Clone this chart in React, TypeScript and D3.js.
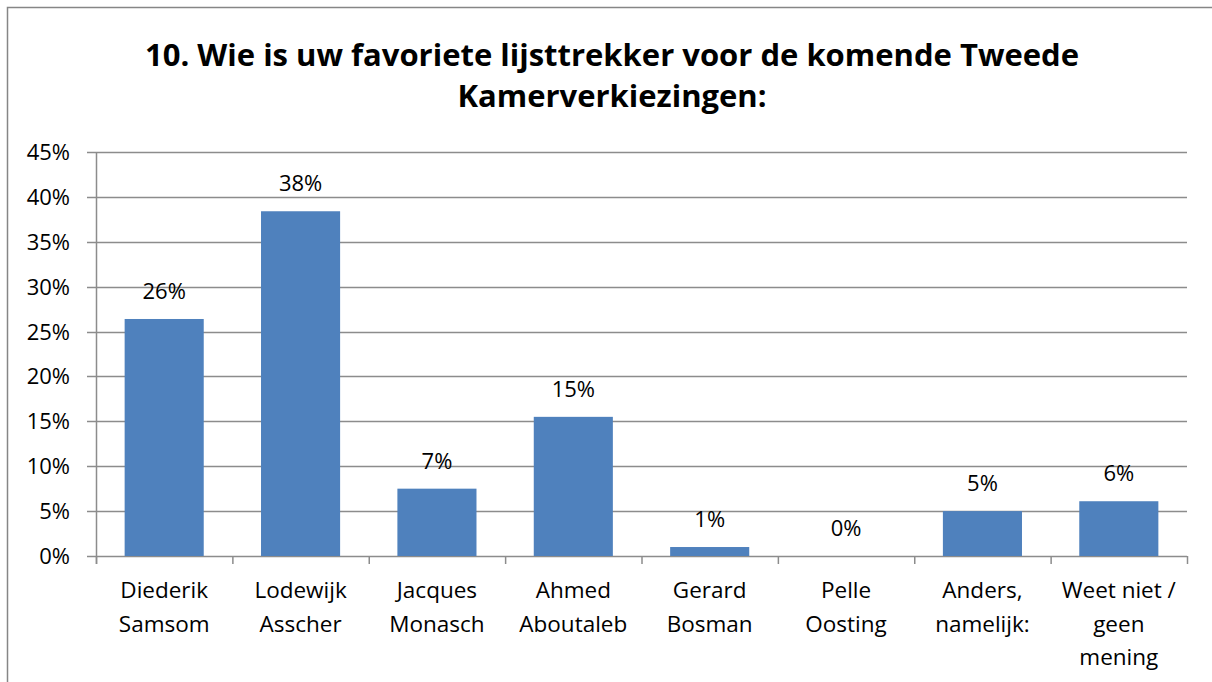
import React, { useEffect, useRef } from 'react';
import * as d3 from 'd3';

const categories = [
  ['Diederik', 'Samsom'],
  ['Lodewijk', 'Asscher'],
  ['Jacques', 'Monasch'],
  ['Ahmed', 'Aboutaleb'],
  ['Gerard', 'Bosman'],
  ['Pelle', 'Oosting'],
  ['Anders,', 'namelijk:'],
  ['Weet niet /', 'geen', 'mening'],
];
const values = [26.4, 38.4, 7.5, 15.5, 1.0, 0, 5.0, 6.1];
const valueLabels = ['26%', '38%', '7%', '15%', '1%', '0%', '5%', '6%'];
const yTicks = [0, 5, 10, 15, 20, 25, 30, 35, 40, 45];
const titleLines = [
  '10. Wie is uw favoriete lijsttrekker voor de komende Tweede',
  'Kamerverkiezingen:',
];

const W = 1212;
const H = 682;
const FONT = '"Open Sans", Calibri, sans-serif';

const App: React.FC = () => {
  const svgRef = useRef<SVGSVGElement | null>(null);

  useEffect(() => {
    if (!svgRef.current) return;
    const svg = d3.select(svgRef.current);
    svg.selectAll('*').remove();

    const margin = { top: 152, right: 25, bottom: 126, left: 96 };
    const innerW = W - margin.left - margin.right;
    const innerH = H - margin.top - margin.bottom;

    // outer frame
    svg
      .append('rect')
      .attr('x', 7.5)
      .attr('y', 7.5)
      .attr('width', W + 10)
      .attr('height', H + 10)
      .attr('fill', 'white')
      .attr('stroke', '#868686')
      .attr('stroke-width', 1.5);

    svg
      .append('g')
      .selectAll('text')
      .data(titleLines)
      .enter()
      .append('text')
      .attr('x', 612)
      .attr('y', (_d, i) => 66 + i * 41)
      .attr('text-anchor', 'middle')
      .attr('font-family', FONT)
      .attr('font-weight', 'bold')
      .attr('font-size', 31)
      .attr('fill', '#000')
      .text((d) => d);

    const g = svg
      .append('g')
      .attr('transform', `translate(${margin.left},${margin.top})`);

    const x = d3
      .scaleBand()
      .domain(categories.map((_c, i) => String(i)))
      .range([0, innerW])
      .paddingInner(0.42)
      .paddingOuter(0.21);

    const y = d3.scaleLinear().domain([0, 45]).range([innerH, 0]);

    // gridlines
    g.append('g')
      .selectAll('line')
      .data(yTicks)
      .enter()
      .append('line')
      .attr('x1', -9)
      .attr('x2', innerW)
      .attr('y1', (d) => Math.round(y(d)) + 0.5)
      .attr('y2', (d) => Math.round(y(d)) + 0.5)
      .attr('stroke', '#8c8c8c')
      .attr('stroke-width', 1.5);

    // y axis line
    g.append('line')
      .attr('x1', 0.5)
      .attr('x2', 0.5)
      .attr('y1', 0)
      .attr('y2', innerH + 8)
      .attr('stroke', '#8c8c8c')
      .attr('stroke-width', 1.5);

    // x ticks at band boundaries
    const step = innerW / categories.length;
    g.append('g')
      .selectAll('line')
      .data(d3.range(categories.length + 1))
      .enter()
      .append('line')
      .attr('x1', (d) => d * step + 0.5)
      .attr('x2', (d) => d * step + 0.5)
      .attr('y1', innerH)
      .attr('y2', innerH + 8)
      .attr('stroke', '#8c8c8c')
      .attr('stroke-width', 1.5);

    // y tick labels
    g.append('g')
      .selectAll('text')
      .data(yTicks)
      .enter()
      .append('text')
      .attr('x', -26)
      .attr('y', (d) => y(d) + 8)
      .attr('text-anchor', 'end')
      .attr('font-family', FONT)
      .attr('font-size', 22)
      .attr('fill', '#000')
      .text((d) => `${d}%`);

    // bars
    g.append('g')
      .selectAll('rect')
      .data(values)
      .enter()
      .append('rect')
      .attr('x', (_d, i) => x(String(i)) as number)
      .attr('y', (d) => y(d))
      .attr('width', x.bandwidth())
      .attr('height', (d) => innerH - y(d))
      .attr('fill', '#4f81bd');

    // value labels
    g.append('g')
      .selectAll('text')
      .data(values)
      .enter()
      .append('text')
      .attr('x', (_d, i) => (x(String(i)) as number) + x.bandwidth() / 2)
      .attr('y', (d) => y(d) - 20)
      .attr('text-anchor', 'middle')
      .attr('font-family', FONT)
      .attr('font-size', 22)
      .attr('fill', '#000')
      .text((_d, i) => valueLabels[i]);

    // category labels
    const cat = g
      .append('g')
      .selectAll('text')
      .data(categories)
      .enter()
      .append('text')
      .attr('text-anchor', 'middle')
      .attr('font-family', FONT)
      .attr('font-size', 22.5)
      .attr('fill', '#000');

    cat
      .selectAll('tspan')
      .data((d, i) => d.map((line) => ({ line, i })))
      .enter()
      .append('tspan')
      .attr('x', (d) => (x(String(d.i)) as number) + x.bandwidth() / 2)
      .attr('y', (_d, j) => innerH + 42 + j * 33.5)
      .text((d) => d.line);
  }, []);

  return (
    <svg
      ref={svgRef}
      width={W}
      height={H}
      style={{ position: 'absolute', left: 0, top: 0, display: 'block' }}
    />
  );
};

export default App;
